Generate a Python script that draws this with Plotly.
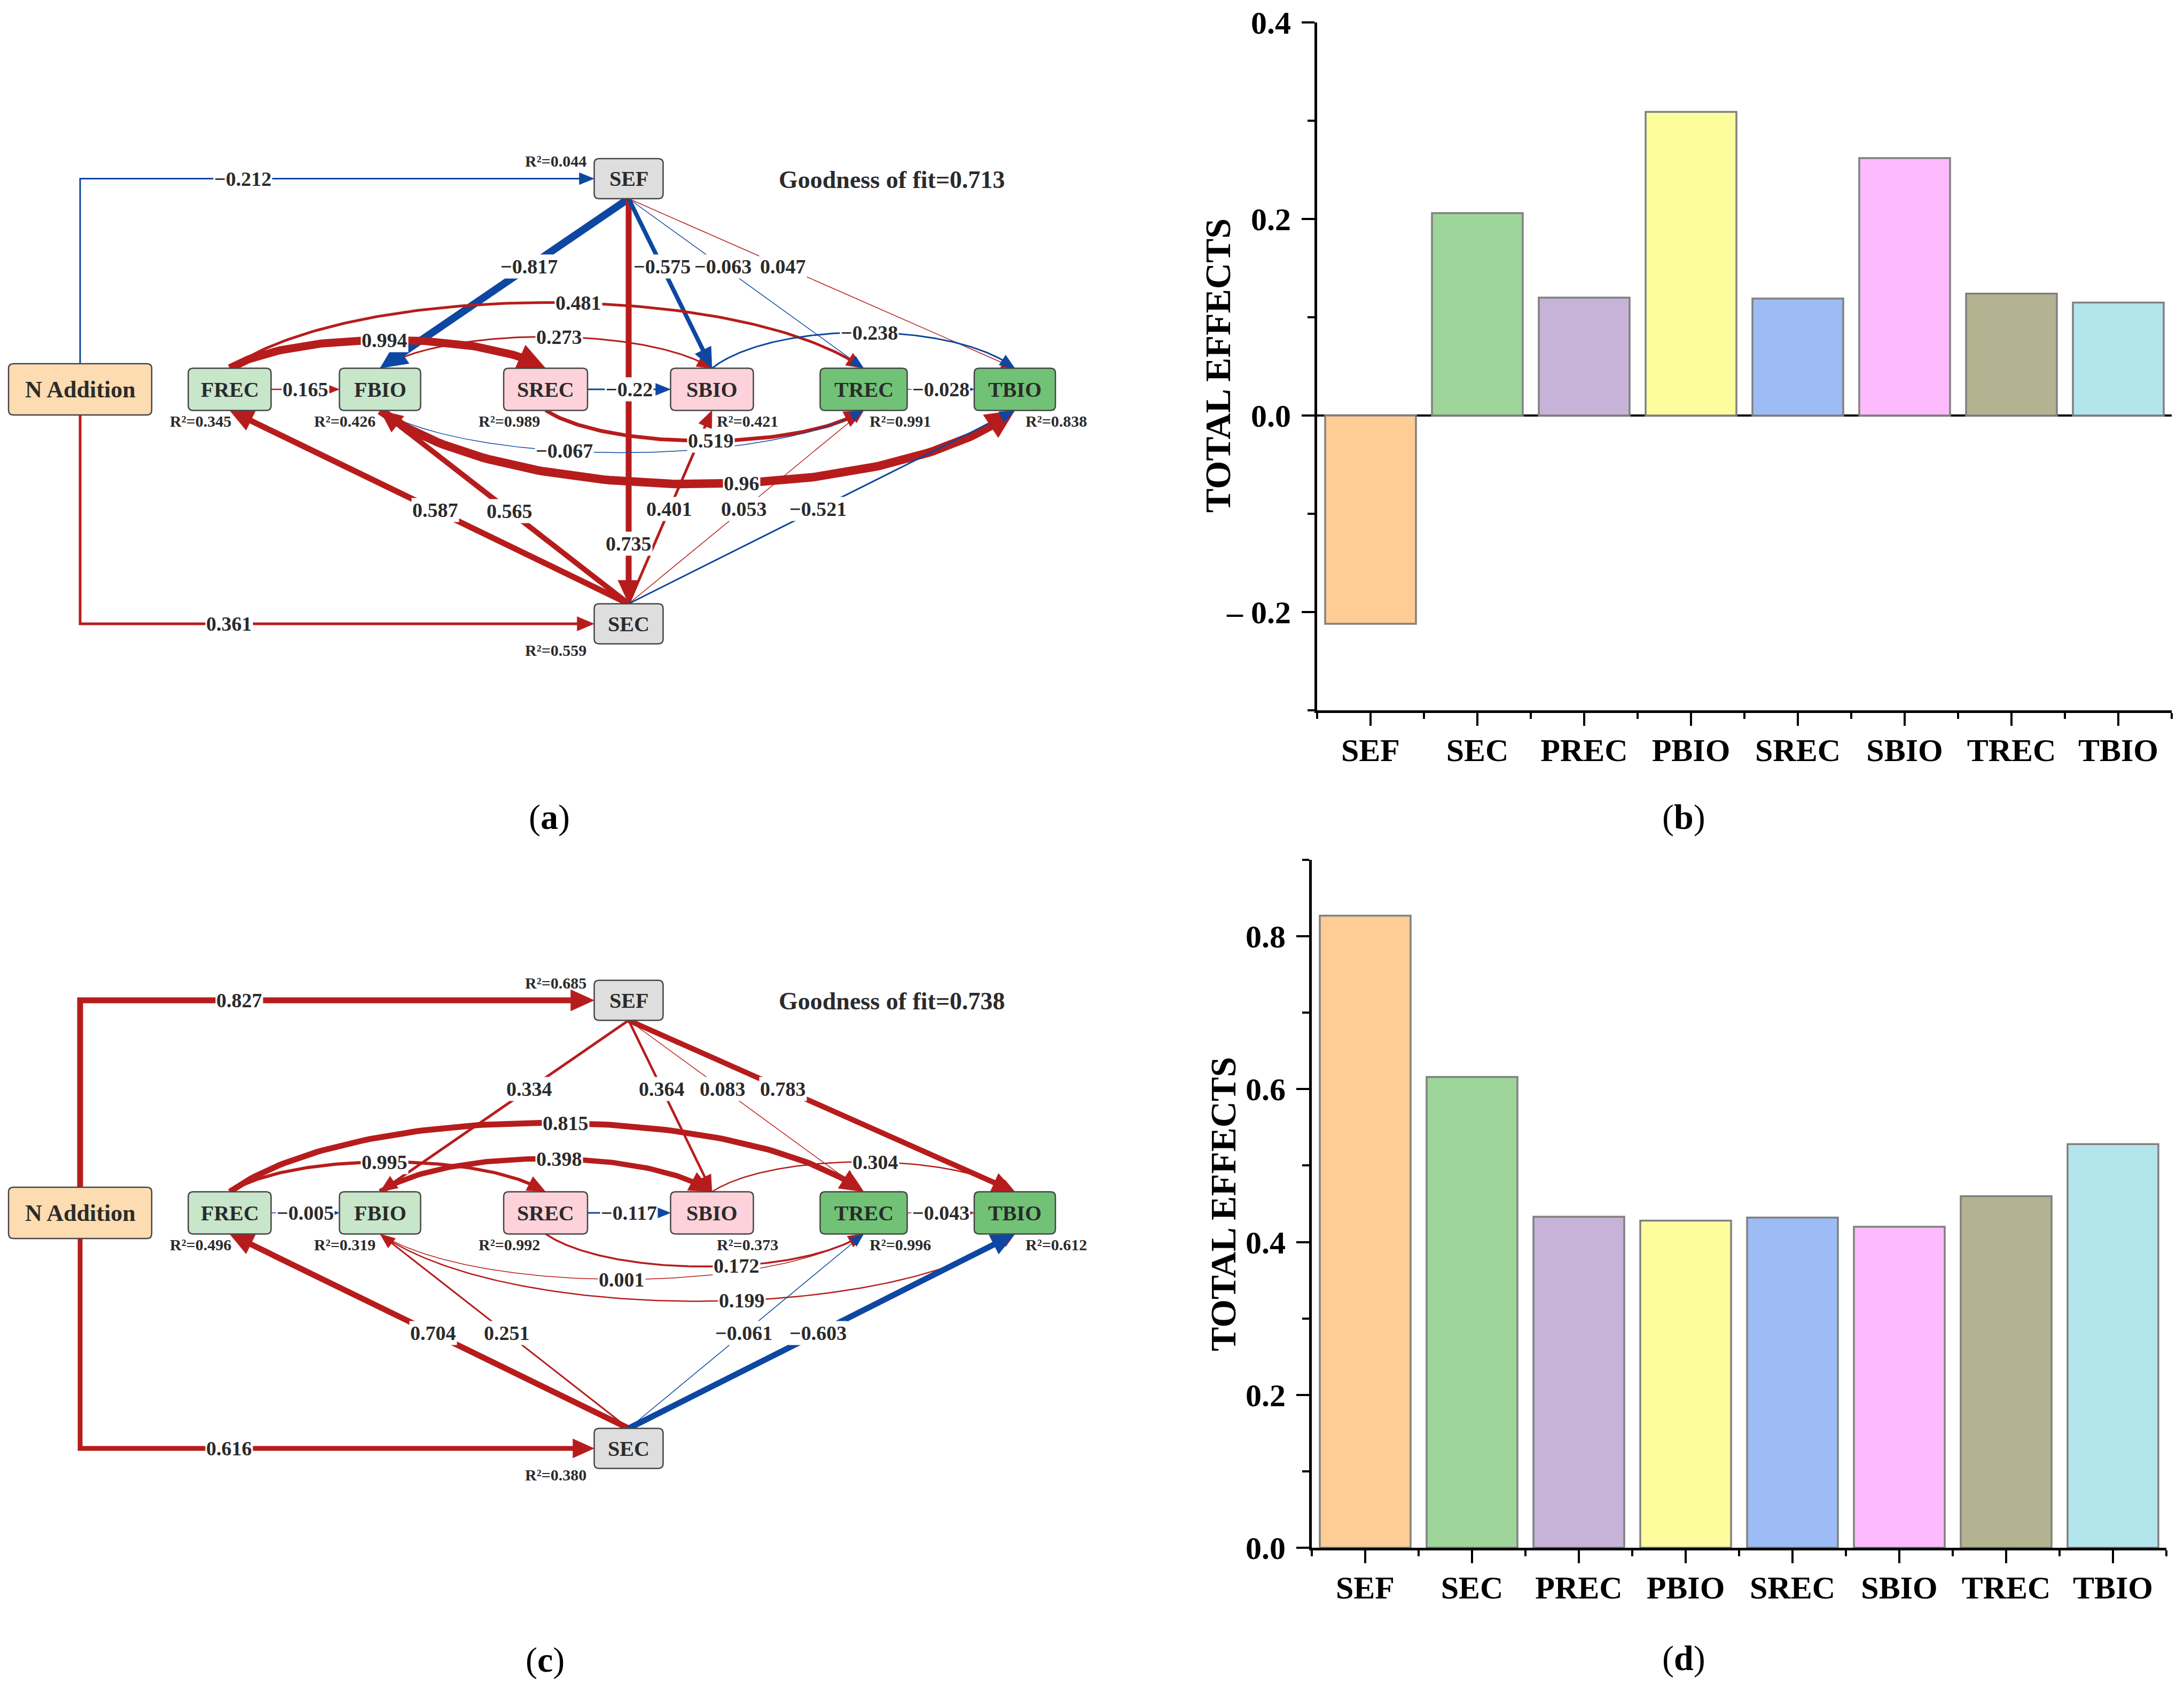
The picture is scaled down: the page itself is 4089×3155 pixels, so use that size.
import math
import plotly.graph_objects as go

W, H = 4089, 3155
SERIF = "Liberation Serif, Times New Roman, serif"
RED = "#B71C1C"
BLUE = "#0D47A1"
TXT = "#2B2B2B"

# ---------------- data ----------------
bar_categories = ["SEF", "SEC", "PREC", "PBIO", "SREC", "SBIO", "TREC", "TBIO"]
effects_b = [-0.212, 0.206, 0.120, 0.309, 0.119, 0.262, 0.124, 0.115]
effects_d = [0.827, 0.616, 0.433, 0.428, 0.432, 0.420, 0.460, 0.528]

nodes = ["N Addition", "FREC", "FBIO", "SREC", "SBIO", "TREC", "TBIO", "SEF", "SEC"]
r2_a = [None, 0.345, 0.426, 0.989, 0.421, 0.991, 0.838, 0.044, 0.559]
r2_c = [None, 0.496, 0.319, 0.992, 0.373, 0.996, 0.612, 0.685, 0.380]
goodness_a = 0.713
goodness_c = 0.738

path_from = ["N Addition", "N Addition", "SEF", "SEF", "SEF", "SEF", "SEF",
             "FREC", "SREC", "TREC", "FREC", "FREC", "FBIO", "SBIO", "SREC",
             "FBIO", "FBIO", "SEC", "SEC", "SEC", "SEC", "SEC"]
path_to = ["SEF", "SEC", "FBIO", "SEC", "SBIO", "TREC", "TBIO",
           "FBIO", "SBIO", "TBIO", "SREC", "TREC", "SBIO", "TBIO", "TREC",
           "TREC", "TBIO", "FREC", "FBIO", "SBIO", "TREC", "TBIO"]
coef_a = [-0.212, 0.361, -0.817, 0.735, -0.575, -0.063, 0.047,
          0.165, -0.22, -0.028, 0.994, 0.481, 0.273, -0.238, 0.519,
          -0.067, 0.96, 0.587, 0.565, 0.401, 0.053, -0.521]
coef_c = [0.827, 0.616, 0.334, None, 0.364, 0.083, 0.783,
          -0.005, -0.117, -0.043, 0.995, 0.815, 0.398, 0.304, 0.172,
          0.001, 0.199, 0.704, 0.251, None, -0.061, -0.603]

# ---------------- styles ----------------
bar_colors = ["#FECC94", "#9DD59A", "#C6B3D7", "#FDFD9E",
              "#9DBBF5", "#FDBBFD", "#B4B391", "#B3E5EC"]
width_a = [3, 5, 14, 11, 8, 1.5, 1.5, 2.5, 3, 1.5, 15, 5, 3, 3, 7, 1.5, 16, 11, 10, 5, 1.5, 3]
width_c = [11, 9, 5, None, 4.5, 1.5, 10, 1.5, 3, 1.5, 6, 11, 10, 2.5, 3.5, 1.5, 2.5, 11, 3, None, 1.5, 11]
arc_a = [0] * 10 + [53, 123, 59, 67, -57, -79, -138] + [0] * 5
arc_c = [0] * 10 + [56, 129, 62, 56, -61, -85, -126] + [0] * 5
lab_a = [0.316, 0.29, 0.4, 0.852, 0.4, 0.4, 0.4, 0.5, 0.5, 0.5,
         0.49, 0.548, 0.537, 0.524, 0.517, 0.385, 0.565, 0.485, 0.48, 0.49, 0.49, 0.49]
lab_c = [0.31, 0.29, 0.4, None, 0.4, 0.4, 0.4, 0.5, 0.5, 0.5,
         0.49, 0.534, 0.537, 0.54, 0.6, 0.504, 0.572, 0.49, 0.49, None, 0.49, 0.49]
color_override = {("c", 9): RED}

node_cx = {"N Addition": 150, "FREC": 430, "FBIO": 711.5, "SREC": 1021.5, "SBIO": 1333,
           "TREC": 1617, "TBIO": 1900, "SEF": 1177, "SEC": 1177}
node_w = {"N Addition": 268, "FREC": 155, "FBIO": 152, "SREC": 157, "SBIO": 155,
          "TREC": 163, "TBIO": 152, "SEF": 129, "SEC": 129}
node_fill = {"N Addition": "#FCDCB0", "FREC": "#C8E6CA", "FBIO": "#C8E6CA",
             "SREC": "#FDD2DA", "SBIO": "#FDD2DA", "TREC": "#71C276", "TBIO": "#71C276",
             "SEF": "#DEDEDE", "SEC": "#DEDEDE"}
panel_y = {"a": dict(row=729, sef=334.5, sec=1168), "c": dict(row=2271, sef=1873, sec=2712)}
r2_pos = {"FREC": ("right", 5), "FBIO": ("right", -7), "SREC": ("right", -9),
          "SBIO": ("left", 7), "TREC": ("left", 9), "TBIO": ("left", 18)}

fig = go.Figure()
shapes = []
annotations = []


def geom(panel):
    py = panel_y[panel]
    g = {}
    for n in nodes:
        if n == "SEF":
            cy, h = py["sef"], 75
        elif n == "SEC":
            cy, h = py["sec"], 75
        elif n == "N Addition":
            cy, h = py["row"], 96
        else:
            cy, h = py["row"], 79
        g[n] = (node_cx[n], cy, node_w[n], h)
    return g


def anchor(gn, side):
    cx, cy, w, h = gn
    return {"top": (cx, cy - h / 2), "bottom": (cx, cy + h / 2),
            "left": (cx - w / 2, cy), "right": (cx + w / 2, cy)}[side]


def cubic(p0, p3, depth, n=120):
    dx = p3[0] - p0[0]
    s = -1 if depth > 0 else 1
    hh = abs(depth) / 0.75
    c1 = (p0[0] + 0.2 * dx, p0[1] + s * hh)
    c2 = (p3[0] - 0.2 * dx, p3[1] + s * hh)
    pts = []
    for i in range(n + 1):
        t = i / n
        a, b, c, d = (1 - t) ** 3, 3 * (1 - t) ** 2 * t, 3 * (1 - t) * t ** 2, t ** 3
        pts.append((a * p0[0] + b * c1[0] + c * c2[0] + d * p3[0],
                    a * p0[1] + b * c1[1] + c * c2[1] + d * p3[1]))
    return pts


def dist(p, q):
    return math.hypot(p[0] - q[0], p[1] - q[1])


def trim_end(pts, d):
    acc = 0.0
    for i in range(len(pts) - 1, 0, -1):
        seg = dist(pts[i - 1], pts[i])
        if acc + seg >= d and seg > 0:
            r = (d - acc) / seg
            p = (pts[i][0] + (pts[i - 1][0] - pts[i][0]) * r,
                 pts[i][1] + (pts[i - 1][1] - pts[i][1]) * r)
            return pts[:i] + [p]
        acc += seg
    return pts[:1]


def fmt(v):
    s = f"{abs(v):g}"
    return ("\u2212" + s) if v < 0 else s


heads = {RED: ([], []), BLUE: ([], [])}


def draw_panel(panel, coefs, widths, arcs, labs):
    g = geom(panel)
    for i, (src, tgt, c) in enumerate(zip(path_from, path_to, coefs)):
        if c is None:
            continue
        w = widths[i]
        col = color_override.get((panel, i), RED if c > 0 else BLUE)
        f = labs[i]
        if src == "N Addition":
            p0 = anchor(g[src], "top" if g[tgt][1] < g[src][1] else "bottom")
            p2 = anchor(g[tgt], "left")
            corner = (p0[0], p2[1])
            pts = [p0, corner, p2]
            lab = (corner[0] + f * (p2[0] - corner[0]), corner[1])
        elif src == "SEF" or src == "SEC":
            p0 = anchor(g[src], "bottom" if src == "SEF" else "top")
            p1 = anchor(g[tgt], "top" if src == "SEF" else "bottom")
            pts = [p0, p1]
            lab = (p0[0] + f * (p1[0] - p0[0]), p0[1] + f * (p1[1] - p0[1]))
        elif arcs[i] == 0:
            p0 = anchor(g[src], "right")
            p1 = anchor(g[tgt], "left")
            pts = [p0, p1]
            lab = (p0[0] + f * (p1[0] - p0[0]), p0[1])
        else:
            side = "top" if arcs[i] > 0 else "bottom"
            p0 = anchor(g[src], side)
            p3 = anchor(g[tgt], side)
            pts = cubic(p0, p3, arcs[i])
            xt = p0[0] + f * (p3[0] - p0[0])
            lab = min(pts, key=lambda p: abs(p[0] - xt))
        L = 22 + 2.0 * w
        HW = 16 + 2.2 * w
        tip = pts[-1]
        base = trim_end(pts, L)[-1]
        ux, uy = tip[0] - base[0], tip[1] - base[1]
        nrm = math.hypot(ux, uy) or 1.0
        ux, uy = ux / nrm, uy / nrm
        bc = (tip[0] - L * ux, tip[1] - L * uy)
        nx, ny = -uy, ux
        hx, hy = heads[col]
        hx += [tip[0], bc[0] + nx * HW / 2, bc[0] - nx * HW / 2, tip[0], None]
        hy += [tip[1], bc[1] + ny * HW / 2, bc[1] - ny * HW / 2, tip[1], None]
        line_pts = trim_end(pts, 0.8 * L)
        fig.add_trace(go.Scatter(x=[p[0] for p in line_pts], y=[p[1] for p in line_pts],
                                 mode="lines", line=dict(color=col, width=w),
                                 xaxis="x3", yaxis="y3", hoverinfo="skip", showlegend=False))
        annotations.append(dict(x=lab[0], y=lab[1], xref="x3", yref="y3", text=fmt(c),
                                showarrow=False, bgcolor="white", borderpad=1,
                                font=dict(family=SERIF, size=38, color=TXT, weight="bold")))
    return g


def draw_nodes(panel, g, r2, gof):
    for n, r in zip(nodes, r2):
        cx, cy, w, h = g[n]
        x0, x1, y0, y1 = cx - w / 2, cx + w / 2, cy - h / 2, cy + h / 2
        rr = 9
        path = (f"M {x0 + rr},{y0} L {x1 - rr},{y0} Q {x1},{y0} {x1},{y0 + rr} "
                f"L {x1},{y1 - rr} Q {x1},{y1} {x1 - rr},{y1} L {x0 + rr},{y1} "
                f"Q {x0},{y1} {x0},{y1 - rr} L {x0},{y0 + rr} Q {x0},{y0} {x0 + rr},{y0} Z")
        shapes.append(dict(type="path", path=path, xref="x3", yref="y3",
                           fillcolor=node_fill[n], line=dict(color="#454545", width=2.5),
                           layer="above"))
        annotations.append(dict(x=cx, y=cy, xref="x3", yref="y3", text=n, showarrow=False,
                                font=dict(family=SERIF, size=44 if n == "N Addition" else 40,
                                          color=TXT, weight="bold")))
        if r is None:
            continue
        txt = f"R\u00b2={r:.3f}"
        if n == "SEF":
            ax, xa, ay = 1100, "right", cy - 33
        elif n == "SEC":
            ax, xa, ay = 1100, "right", cy + 49
        else:
            xa, off = r2_pos[n]
            ax, ay = cx + off, y1 + 20
        annotations.append(dict(x=ax, y=ay, xref="x3", yref="y3", text=txt, showarrow=False,
                                xanchor=xa, font=dict(family=SERIF, size=30, color=TXT, weight="bold")))
    sef = g["SEF"]
    annotations.append(dict(x=1670, y=sef[1] + 1.5, xref="x3", yref="y3",
                            text=f"Goodness of fit={gof}", showarrow=False,
                            font=dict(family=SERIF, size=46, color=TXT, weight="bold")))


ga = draw_panel("a", coef_a, width_a, arc_a, lab_a)
gc = draw_panel("c", coef_c, width_c, arc_c, lab_c)
for col, (hx, hy) in heads.items():
    fig.add_trace(go.Scatter(x=hx, y=hy, mode="lines", fill="toself", fillcolor=col,
                             line=dict(color=col, width=0.5), xaxis="x3", yaxis="y3",
                             hoverinfo="skip", showlegend=False))
draw_nodes("a", ga, r2_a, goodness_a)
draw_nodes("c", gc, r2_c, goodness_c)

# ---------------- bar charts ----------------
x_idx = list(range(len(bar_categories)))
fig.add_trace(go.Bar(x=x_idx, y=effects_b, width=0.85,
                     marker=dict(color=bar_colors, line=dict(color="#808080", width=3.5)),
                     xaxis="x", yaxis="y", hoverinfo="skip", showlegend=False))
fig.add_trace(go.Bar(x=x_idx, y=effects_d, width=0.85,
                     marker=dict(color=bar_colors, line=dict(color="#808080", width=3.5)),
                     xaxis="x2", yaxis="y2", hoverinfo="skip", showlegend=False))

tickfont = dict(family=SERIF, size=60, color="black", weight="bold")


def xaxis_cfg(domain, anchor):
    return dict(domain=domain, anchor=anchor, range=[-0.5, 7.5], tickmode="array",
                tickvals=x_idx, ticktext=bar_categories, ticks="outside", ticklen=24,
                tickwidth=4, tickcolor="black", showline=True, linecolor="black", linewidth=5,
                showgrid=False, zeroline=False, tickfont=tickfont, ticklabelstandoff=-6,
                minor=dict(tickmode="array", tickvals=[i - 0.5 for i in range(9)],
                           ticks="outside", ticklen=11, tickwidth=4, tickcolor="black"),
                fixedrange=True)


def yaxis_cfg(domain, anchor, rng, vals, texts, zl):
    return dict(domain=domain, anchor=anchor, range=rng, tickmode="array", tickvals=vals,
                ticktext=texts, ticks="outside", ticklen=24, tickwidth=4, tickcolor="black",
                showline=True, linecolor="black", linewidth=5, showgrid=False,
                zeroline=zl, zerolinecolor="black", zerolinewidth=4, tickfont=tickfont,
                ticklabelstandoff=8,
                minor=dict(tickmode="linear", tick0=0, dtick=0.1, ticks="outside",
                           ticklen=13, tickwidth=4, tickcolor="black"),
                fixedrange=True)


fig.update_layout(
    width=W, height=H, margin=dict(l=0, r=0, t=0, b=0),
    template="none", paper_bgcolor="white", plot_bgcolor="rgba(0,0,0,0)",
    showlegend=False, bargap=0.15,
    xaxis=xaxis_cfg([2466 / W, 4066 / W], "y"),
    yaxis=yaxis_cfg([1 - 1330 / H, 1 - 42 / H], "x", [-0.3, 0.4],
                    [-0.2, 0.0, 0.2, 0.4], ["\u2013 0.2", "0.0", "0.2", "0.4"], True),
    xaxis2=xaxis_cfg([2456 / W, 4056 / W], "y2"),
    yaxis2=yaxis_cfg([1 - 2898 / H, 1 - 1610 / H], "x2", [0, 0.9],
                     [0, 0.2, 0.4, 0.6, 0.8], ["0.0", "0.2", "0.4", "0.6", "0.8"], False),
    xaxis3=dict(domain=[0, 1], anchor="y3", range=[0, W], visible=False, fixedrange=True),
    yaxis3=dict(domain=[0, 1], anchor="x3", range=[H, 0], visible=False, fixedrange=True),
)

# axis titles and panel labels
for (x, y) in [(2280, 685), (2290, 2255)]:
    annotations.append(dict(x=x, y=y, xref="x3", yref="y3", text="TOTAL EFFECTS",
                            textangle=-90, showarrow=False,
                            font=dict(family=SERIF, size=68, color="black", weight="bold")))
for (t, x, y) in [("a", 1028, 1530), ("b", 3152, 1530), ("c", 1020, 3108), ("d", 3152, 3105)]:
    annotations.append(dict(x=x, y=y, xref="x3", yref="y3", text=f"(<b>{t}</b>)",
                            showarrow=False, font=dict(family=SERIF, size=66, color="black")))

fig.update_layout(shapes=shapes, annotations=annotations)
fig.write_html("out.html", config={"displayModeBar": False},
               post_script="document.body.style.margin='0px';")
